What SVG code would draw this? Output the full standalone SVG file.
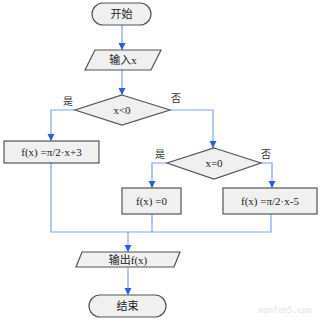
<svg xmlns="http://www.w3.org/2000/svg" width="320" height="319" viewBox="0 0 320 319">
<defs>
<marker id="ah" markerWidth="8" markerHeight="8" refX="7" refY="4" orient="auto" markerUnits="userSpaceOnUse">
<path d="M0,0.5 L7,4 L0,7.5 Z" fill="#2a5fd6"/>
</marker>
</defs>
<style>
.shape{fill:#f0f0f0;stroke:#555;stroke-width:1.2}
.t{font-family:"Liberation Serif","Noto Sans CJK SC",serif;font-size:11px;fill:#222;text-anchor:middle;dominant-baseline:central}
.lbl{font-family:"Noto Sans CJK SC",serif;font-size:10px;fill:#333;text-anchor:middle;dominant-baseline:central}
.c{fill:none;stroke:#7aa7e8;stroke-width:1.2}
.ca{fill:none;stroke:#7aa7e8;stroke-width:1.2;marker-end:url(#ah)}
</style>
<rect width="320" height="319" fill="#fff"/>
<g id="connectors">
<path class="ca" d="M122,25 V50"/>
<path class="ca" d="M122,70 V95"/>
<path class="ca" d="M75,110 H51 V141"/>
<path class="ca" d="M170,110 H213 V148"/>
<path class="ca" d="M167,163 H152 V188"/>
<path class="ca" d="M261,163 H272 V188"/>
<path class="c" d="M51,163 V232 H271 V214"/>
<path class="c" d="M152,214 V232"/>
<path class="ca" d="M128,232 V252"/>
<path class="ca" d="M128,267 V295"/>
<text class="lbl" x="68" y="100">是</text>
<text class="lbl" x="176" y="97">否</text>
<text class="lbl" x="160" y="153">是</text>
<text class="lbl" x="266" y="153">否</text>
</g>
<g id="start">
<rect class="shape" x="92" y="3" width="59" height="22" rx="11"/>
<text class="t" x="121.5" y="14">开始</text>
</g>
<g id="input">
<polygon class="shape" points="95,50 161,50 151,70 85,70"/>
<text class="t" x="123" y="60">输入x</text>
</g>
<g id="cond1">
<polygon class="shape" points="122,95 170,110 122,125 75,110"/>
<text class="t" x="122" y="110">x&lt;0</text>
</g>
<g id="box1">
<rect class="shape" x="4" y="141" width="95" height="22"/>
<text class="t" x="51.5" y="152">f(x) =π/2·x+3</text>
</g>
<g id="cond2">
<polygon class="shape" points="214,148 261,163 214,179 167,163"/>
<text class="t" x="214" y="163">x=0</text>
</g>
<g id="box2">
<rect class="shape" x="122" y="188" width="59" height="26"/>
<text class="t" x="151.5" y="201">f(x) =0</text>
</g>
<g id="box3">
<rect class="shape" x="223" y="188" width="94" height="26"/>
<text class="t" x="270" y="201">f(x) =π/2·x-5</text>
</g>
<g id="output">
<polygon class="shape" points="82,252 180,252 174,267 76,267"/>
<text class="t" x="128" y="259.5">输出f(x)</text>
</g>
<g id="end">
<rect class="shape" x="89" y="295" width="77" height="22" rx="11"/>
<text class="t" x="127.5" y="306">结束</text>
</g>
<text x="285" y="313" style="font-family:'DejaVu Sans Mono',monospace;font-size:8px;fill:#e2e2e2;text-anchor:middle">manfen5.com</text>
</svg>
